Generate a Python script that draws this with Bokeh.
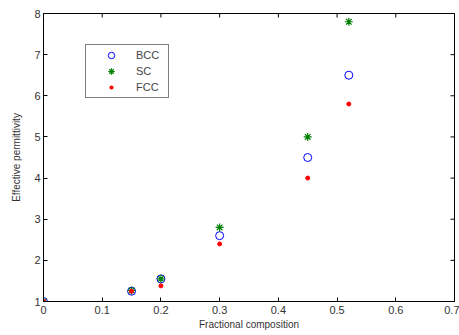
import math
from bokeh.plotting import figure
from bokeh.models import Range1d, FixedTicker, NumeralTickFormatter, Legend, LegendItem
from bokeh.embed import file_html
from bokeh.resources import INLINE

x = [0, 0.15, 0.2, 0.3, 0.45, 0.52]
bcc = [1.0, 1.25, 1.55, 2.6, 4.5, 6.5]
sc = [1.0, 1.27, 1.55, 2.8, 5.0, 7.8]
fcc = [1.0, 1.25, 1.38, 2.4, 4.0, 5.8]
x_ticks = [0, 0.1, 0.2, 0.3, 0.4, 0.5, 0.6, 0.7]
y_ticks = [1, 2, 3, 4, 5, 6, 7, 8]

p = figure(width=459, height=335, output_backend="svg", toolbar_location=None,
           x_range=Range1d(x_ticks[0], x_ticks[-1]), y_range=Range1d(y_ticks[0], y_ticks[-1]),
           min_border_left=43, min_border_right=5, min_border_top=13, min_border_bottom=34,
           x_axis_label="Fractional composition", y_axis_label="Effective permittivity")
p.grid.visible = False
p.outline_line_color = "black"
p.outline_line_width = 1
p.background_fill_color = "white"
p.border_fill_color = "white"

FONT = "Liberation Sans"
for ax in p.xaxis + p.yaxis:
    ax.major_tick_in = 4
    ax.major_tick_out = 0
    ax.minor_tick_in = 0
    ax.minor_tick_out = 0
    ax.axis_line_color = "black"
    ax.major_tick_line_color = "black"
    ax.major_label_text_font = FONT
    ax.major_label_text_font_size = "11px"
    ax.major_label_text_color = "#333333"
    ax.axis_label_text_font = FONT
    ax.axis_label_text_font_size = "10px"
    ax.axis_label_text_font_style = "normal"
    ax.axis_label_text_color = "#333333"
p.xaxis.ticker = FixedTicker(ticks=x_ticks)
p.yaxis.ticker = FixedTicker(ticks=y_ticks)
p.xaxis.formatter = NumeralTickFormatter(format="0.[0]")
p.yaxis.formatter = NumeralTickFormatter(format="0")
p.xaxis.major_label_standoff = 4
p.yaxis.major_label_standoff = 3
p.xaxis.axis_label_standoff = 2
p.yaxis.axis_label_standoff = 9

# legend proxy for the small FCC dot, drawn first and tiny so that it stays hidden in the plot
r_fcc_leg = p.scatter(x, fcc, marker="circle", size=0.1, fill_color="#ff0000",
                      line_color="white", line_width=2.2)

# mirrored inward ticks on top and right edges (half outside is clipped by the frame)
p.scatter(x_ticks, [y_ticks[-1]] * len(x_ticks), marker="dash", angle=math.pi / 2,
          size=8, line_color="black", line_width=1)
p.scatter([x_ticks[-1]] * len(y_ticks), y_ticks, marker="dash",
          size=8, line_color="black", line_width=1)

r_bcc = p.scatter(x, bcc, marker="circle", size=8, fill_color=None, line_color="#0000ff", line_width=1)
r_sc = p.scatter(x, sc, marker="asterisk", size=8, line_color="#008000", line_width=1.2)
r_fcc = p.scatter(x, fcc, marker="circle", size=4, fill_color="#ff0000", line_color="#ff0000")

legend = Legend(items=[LegendItem(label="BCC", renderers=[r_bcc]),
                       LegendItem(label="SC", renderers=[r_sc]),
                       LegendItem(label="FCC", renderers=[r_fcc_leg])],
                location=(42, 203), border_line_color="black", border_line_width=1,
                label_text_font=FONT, label_text_font_size="11px",
                glyph_width=46, glyph_height=16, label_height=16, label_width=30,
                spacing=0, padding=2, margin=0, label_standoff=2)
p.add_layout(legend, "center")

open("out.html", "w").write(file_html(p, INLINE))
